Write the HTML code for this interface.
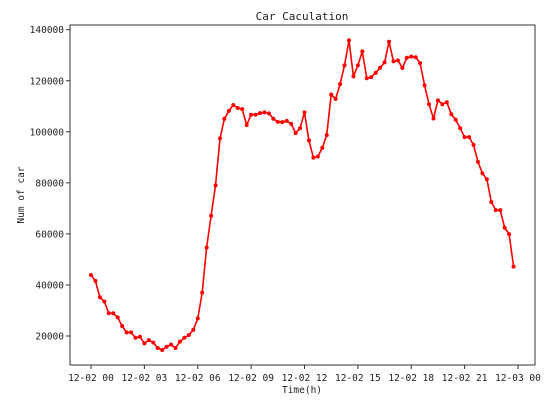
<!DOCTYPE html>
<html><head><meta charset="utf-8"><style>
html,body{margin:0;padding:0;background:#fff;}
svg text{font-family:"DejaVu Sans Mono","Liberation Mono",monospace;fill:#222;}
</style></head><body>
<svg id="chart" width="554" height="405" viewBox="0 0 554 405" xmlns="http://www.w3.org/2000/svg">
<text x="302" y="20" font-size="11" text-anchor="middle">Car Caculation</text>
<rect x="70" y="25" width="465" height="340" fill="none" stroke="#333" stroke-width="1"/>
<g id="xaxis"></g>
<g id="yaxis"></g>
<text x="302" y="393" font-size="9.5" text-anchor="middle">Time(h)</text>
<text x="0" y="0" font-size="9.5" text-anchor="middle" transform="translate(24,195) rotate(-90)">Num of car</text>
<g id="series"></g>
</svg>
<script>
const values=[43900,41600,35200,33500,28900,28900,27300,23900,21400,21400,19300,19700,17100,18400,17400,15300,14500,15800,16600,15300,17800,19300,20400,22400,26900,37000,54600,67100,79000,97400,105100,108200,110500,109300,108900,102600,106700,106700,107300,107600,107200,105100,103900,103800,104300,103100,99500,101400,107600,96600,89900,90300,93700,98700,114600,112900,118700,126000,135800,121700,126000,131500,121000,121400,123100,125100,127200,135300,127600,128000,125000,129000,129500,129200,126900,118200,110800,105200,112300,110800,111600,106900,104700,101400,97900,97900,94900,88200,83700,81400,72500,69300,69300,62400,59900,47200];
const stepHours=0.25;
const xTickHours=[0,3,6,9,12,15,18,21,24];
const xTickLabels=["12-02 00","12-02 03","12-02 06","12-02 09","12-02 12","12-02 15","12-02 18","12-02 21","12-03 00"];
const yTicks=[20000,40000,60000,80000,100000,120000,140000];
const NS="http://www.w3.org/2000/svg";
function xs(h){return 91+h*(518-91)/24;}
function ys(v){return 336-(v-20000)*306.3/120000;}
function mk(t,a,p){const e=document.createElementNS(NS,t);for(const k in a)e.setAttribute(k,a[k]);p.appendChild(e);return e;}
const xa=document.getElementById('xaxis'),ya=document.getElementById('yaxis'),sg=document.getElementById('series');
xTickHours.forEach((h,i)=>{
 const l=mk('line',{x1:xs(h),x2:xs(h),y1:365,y2:369,stroke:'#333'},xa);
 
 
 const t=mk('text',{x:xs(h),y:381,'font-size':'9.5','text-anchor':'middle'},xa);
 t.textContent=xTickLabels[i];
 
 
});
yTicks.forEach(v=>{
 const l=mk('line',{x1:66,x2:70,y1:ys(v),y2:ys(v),stroke:'#333'},ya);
 
 
 const t=mk('text',{x:64,y:ys(v)+3.5,'font-size':'9.5','text-anchor':'end'},ya);
 t.textContent=String(v);
 
 
});
const pts=values.map((v,i)=>xs(i*stepHours).toFixed(1)+','+ys(v).toFixed(1)).join(' ');
const pl=mk('polyline',{points:pts,fill:'none',stroke:'#f00','stroke-width':'1.6','stroke-linejoin':'round'},sg);


values.forEach((v,i)=>{
 const c=mk('circle',{cx:xs(i*stepHours),cy:ys(v),r:2,fill:'#f00'},sg);
 
 
});
</script>
</body></html>
